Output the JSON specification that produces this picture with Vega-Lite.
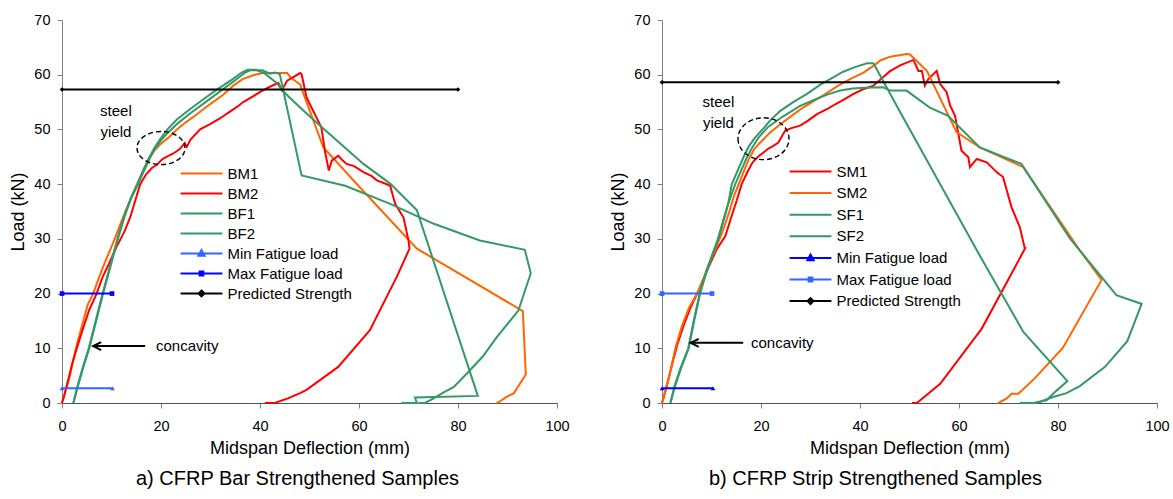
{
  "$schema": "https://vega.github.io/schema/vega-lite/v6.json",
  "padding": {"left": 9, "top": 12, "right": 5, "bottom": 5},
  "spacing": 39,
  "config": {
    "view": {"stroke": null},
    "font": "Liberation Sans",
    "axis": {"grid": false, "labelFont": "Liberation Sans", "titleFont": "Liberation Sans", "labelFontSize": 14.5, "titleFontSize": 18, "titleFontWeight": "normal", "labelColor": "#000", "titleColor": "#000", "tickSize": 5, "domainColor": "#808080", "tickColor": "#808080", "labelFlush": false, "labelOverlap": false},
    "axisX": {"domainColor": "#505050", "labelPadding": 11, "titlePadding": 7},
    "axisY": {"labelPadding": 7, "titlePadding": 6},
    "legend": {"labelFont": "Liberation Sans", "labelFontSize": 15, "labelColor": "#000", "padding": 0},
    "title": {"font": "Liberation Sans", "fontSize": 20, "fontWeight": "normal", "color": "#000"}
  },
  "datasets": {
    "a": [
      {"s":"BM1","x":0,"y":0},{"s":"BM1","x":0.8,"y":2.5},{"s":"BM1","x":1.6,"y":5},{"s":"BM1","x":2.8,"y":10},{"s":"BM1","x":4.0,"y":14},{"s":"BM1","x":5.2,"y":18},{"s":"BM1","x":6.3,"y":20},{"s":"BM1","x":7.5,"y":23},{"s":"BM1","x":8.8,"y":26},{"s":"BM1","x":10.2,"y":29},{"s":"BM1","x":11.5,"y":32},{"s":"BM1","x":12.8,"y":35},{"s":"BM1","x":14,"y":37.5},{"s":"BM1","x":15.2,"y":40},{"s":"BM1","x":16.4,"y":42.5},{"s":"BM1","x":17.6,"y":44.8},{"s":"BM1","x":18.8,"y":46.3},{"s":"BM1","x":20,"y":47.4},{"s":"BM1","x":21.5,"y":48.5},{"s":"BM1","x":23.2,"y":50},{"s":"BM1","x":25,"y":51.3},{"s":"BM1","x":27,"y":52.6},{"s":"BM1","x":29,"y":54},{"s":"BM1","x":30.5,"y":55},{"s":"BM1","x":32.5,"y":56.3},{"s":"BM1","x":34.6,"y":58},{"s":"BM1","x":36.5,"y":59.2},{"s":"BM1","x":38.6,"y":59.9},{"s":"BM1","x":40.6,"y":60.3},{"s":"BM1","x":45.5,"y":60.3},{"s":"BM1","x":46.2,"y":59.5},{"s":"BM1","x":48.1,"y":58.2},{"s":"BM1","x":52.8,"y":46.7},{"s":"BM1","x":60.8,"y":38.8},{"s":"BM1","x":71.7,"y":28.2},{"s":"BM1","x":93.1,"y":16.8},{"s":"BM1","x":93.7,"y":5.2},{"s":"BM1","x":91.3,"y":1.8},{"s":"BM1","x":89.8,"y":1.1},{"s":"BM1","x":88.5,"y":0.3},{"s":"BM1","x":87.8,"y":0},
      {"s":"BM2","x":0,"y":0},{"s":"BM2","x":0.5,"y":1.5},{"s":"BM2","x":1.2,"y":4},{"s":"BM2","x":2,"y":7},{"s":"BM2","x":3,"y":10},{"s":"BM2","x":4.2,"y":13.5},{"s":"BM2","x":5.5,"y":17},{"s":"BM2","x":7,"y":20},{"s":"BM2","x":8.2,"y":23},{"s":"BM2","x":9.5,"y":25.5},{"s":"BM2","x":11,"y":28.5},{"s":"BM2","x":12.7,"y":31.5},{"s":"BM2","x":13.8,"y":34},{"s":"BM2","x":14.8,"y":37},{"s":"BM2","x":15.8,"y":40},{"s":"BM2","x":17,"y":41.8},{"s":"BM2","x":18.2,"y":43},{"s":"BM2","x":19.1,"y":43.5},{"s":"BM2","x":20.2,"y":44.5},{"s":"BM2","x":21.1,"y":45},{"s":"BM2","x":22.5,"y":45.6},{"s":"BM2","x":23.8,"y":46.4},{"s":"BM2","x":24.8,"y":47.5},{"s":"BM2","x":25.2,"y":46.8},{"s":"BM2","x":26,"y":48.2},{"s":"BM2","x":27.9,"y":50},{"s":"BM2","x":30,"y":51},{"s":"BM2","x":31.9,"y":52},{"s":"BM2","x":34,"y":53.3},{"s":"BM2","x":35.5,"y":54.2},{"s":"BM2","x":36.6,"y":55},{"s":"BM2","x":38.5,"y":56},{"s":"BM2","x":40.3,"y":57},{"s":"BM2","x":42,"y":57.8},{"s":"BM2","x":43.7,"y":58.5},{"s":"BM2","x":44.4,"y":57.2},{"s":"BM2","x":45.5,"y":58.9},{"s":"BM2","x":46.8,"y":59.6},{"s":"BM2","x":48.1,"y":60.3},{"s":"BM2","x":48.4,"y":60.1},{"s":"BM2","x":49.4,"y":55.9},{"s":"BM2","x":50.4,"y":54},{"s":"BM2","x":51.4,"y":52.2},{"s":"BM2","x":52.4,"y":50.4},{"s":"BM2","x":53.1,"y":46.1},{"s":"BM2","x":53.9,"y":42.5},{"s":"BM2","x":54.5,"y":44.3},{"s":"BM2","x":55.8,"y":45.2},{"s":"BM2","x":56.5,"y":44.5},{"s":"BM2","x":57.5,"y":43.7},{"s":"BM2","x":59,"y":43.3},{"s":"BM2","x":60.9,"y":42.2},{"s":"BM2","x":62.5,"y":41.5},{"s":"BM2","x":63.6,"y":40.7},{"s":"BM2","x":65,"y":40.2},{"s":"BM2","x":66.3,"y":39.7},{"s":"BM2","x":67.3,"y":36.4},{"s":"BM2","x":69,"y":33.9},{"s":"BM2","x":70,"y":29.7},{"s":"BM2","x":70.2,"y":28.2},{"s":"BM2","x":67.6,"y":23},{"s":"BM2","x":62.2,"y":13.3},{"s":"BM2","x":55.8,"y":6.6},{"s":"BM2","x":49.4,"y":2.4},{"s":"BM2","x":48.1,"y":1.8},{"s":"BM2","x":45.5,"y":0.8},{"s":"BM2","x":43,"y":0},{"s":"BM2","x":41,"y":0},
      {"s":"BF1","x":2.3,"y":0},{"s":"BF1","x":3.2,"y":3},{"s":"BF1","x":4.3,"y":6.5},{"s":"BF1","x":5.5,"y":10},{"s":"BF1","x":6.9,"y":15},{"s":"BF1","x":8.3,"y":20},{"s":"BF1","x":9.8,"y":25},{"s":"BF1","x":11.3,"y":30},{"s":"BF1","x":12.6,"y":34},{"s":"BF1","x":14,"y":37.5},{"s":"BF1","x":15.4,"y":40},{"s":"BF1","x":16.6,"y":42.5},{"s":"BF1","x":17.8,"y":44.8},{"s":"BF1","x":18.8,"y":46.5},{"s":"BF1","x":20,"y":48},{"s":"BF1","x":21.5,"y":49.5},{"s":"BF1","x":23.5,"y":51.2},{"s":"BF1","x":26,"y":53},{"s":"BF1","x":29,"y":55},{"s":"BF1","x":32,"y":57},{"s":"BF1","x":35,"y":59},{"s":"BF1","x":37,"y":60.4},{"s":"BF1","x":38,"y":60.8},{"s":"BF1","x":40.5,"y":60.8},{"s":"BF1","x":42,"y":60.2},{"s":"BF1","x":43,"y":60.4},{"s":"BF1","x":44,"y":60.1},{"s":"BF1","x":48.4,"y":41.6},{"s":"BF1","x":57.2,"y":39.7},{"s":"BF1","x":66.3,"y":36.4},{"s":"BF1","x":75,"y":32.8},{"s":"BF1","x":84.4,"y":29.7},{"s":"BF1","x":93.5,"y":28},{"s":"BF1","x":94.7,"y":23.7},{"s":"BF1","x":92.2,"y":16.9},{"s":"BF1","x":87.8,"y":12},{"s":"BF1","x":85,"y":8.5},{"s":"BF1","x":81.8,"y":5.4},{"s":"BF1","x":79.1,"y":2.9},{"s":"BF1","x":77,"y":1.9},{"s":"BF1","x":75,"y":0.8},{"s":"BF1","x":73.3,"y":0},{"s":"BF1","x":72,"y":0},
      {"s":"BF2","x":2.3,"y":0},{"s":"BF2","x":3.1,"y":3},{"s":"BF2","x":4.2,"y":6.5},{"s":"BF2","x":5.4,"y":10},{"s":"BF2","x":6.8,"y":15},{"s":"BF2","x":8.2,"y":20},{"s":"BF2","x":9.7,"y":25},{"s":"BF2","x":11.2,"y":30},{"s":"BF2","x":12.5,"y":34},{"s":"BF2","x":13.9,"y":37.5},{"s":"BF2","x":15.2,"y":40},{"s":"BF2","x":16.4,"y":42.5},{"s":"BF2","x":17.6,"y":44.8},{"s":"BF2","x":18.6,"y":46.5},{"s":"BF2","x":19.8,"y":48.2},{"s":"BF2","x":21.3,"y":50},{"s":"BF2","x":23.2,"y":51.8},{"s":"BF2","x":25.7,"y":53.6},{"s":"BF2","x":28.7,"y":55.6},{"s":"BF2","x":31.5,"y":57.4},{"s":"BF2","x":34.5,"y":59.2},{"s":"BF2","x":36.3,"y":60.4},{"s":"BF2","x":37.5,"y":60.9},{"s":"BF2","x":39.2,"y":60.9},{"s":"BF2","x":41,"y":60.2},{"s":"BF2","x":43.5,"y":58.4},{"s":"BF2","x":44.5,"y":57.1},{"s":"BF2","x":48.1,"y":54},{"s":"BF2","x":52.1,"y":50.7},{"s":"BF2","x":60.9,"y":43.7},{"s":"BF2","x":66.3,"y":40.1},{"s":"BF2","x":71.7,"y":35.2},{"s":"BF2","x":84,"y":1.3},{"s":"BF2","x":71.3,"y":1},{"s":"BF2","x":71.7,"y":0},{"s":"BF2","x":68.6,"y":0},
      {"s":"Min Fatigue load","x":0,"y":2.7},{"s":"Min Fatigue load","x":10.2,"y":2.7},
      {"s":"Max Fatigue load","x":0,"y":20},{"s":"Max Fatigue load","x":10.1,"y":20},
      {"s":"Predicted Strength","x":0,"y":57.3},{"s":"Predicted Strength","x":80,"y":57.3}
    ],
    "b": [
      {"s":"SM1","x":0,"y":0},{"s":"SM1","x":0.5,"y":1.5},{"s":"SM1","x":1.2,"y":4},{"s":"SM1","x":2.3,"y":8},{"s":"SM1","x":3.2,"y":11},{"s":"SM1","x":4.5,"y":14.5},{"s":"SM1","x":5.8,"y":17.5},{"s":"SM1","x":7.1,"y":20},{"s":"SM1","x":8.3,"y":22.5},{"s":"SM1","x":9.5,"y":25},{"s":"SM1","x":11,"y":28},{"s":"SM1","x":12.8,"y":30.5},{"s":"SM1","x":14,"y":34},{"s":"SM1","x":15.1,"y":37},{"s":"SM1","x":16.1,"y":40},{"s":"SM1","x":17.3,"y":42.3},{"s":"SM1","x":18.3,"y":44},{"s":"SM1","x":19.4,"y":45},{"s":"SM1","x":20.5,"y":45.8},{"s":"SM1","x":21.5,"y":46.5},{"s":"SM1","x":22.5,"y":47},{"s":"SM1","x":23.5,"y":47.6},{"s":"SM1","x":24.9,"y":49.8},{"s":"SM1","x":26,"y":50.2},{"s":"SM1","x":27.9,"y":50.7},{"s":"SM1","x":29.5,"y":51.6},{"s":"SM1","x":31.3,"y":52.8},{"s":"SM1","x":33.5,"y":53.8},{"s":"SM1","x":35,"y":54.6},{"s":"SM1","x":36.8,"y":55.5},{"s":"SM1","x":38.7,"y":56.5},{"s":"SM1","x":40.5,"y":57.3},{"s":"SM1","x":42.7,"y":58},{"s":"SM1","x":44.7,"y":59.6},{"s":"SM1","x":46,"y":60.6},{"s":"SM1","x":48.1,"y":61.7},{"s":"SM1","x":50.8,"y":62.7},{"s":"SM1","x":51.8,"y":60.7},{"s":"SM1","x":52.5,"y":60.7},{"s":"SM1","x":53.1,"y":58},{"s":"SM1","x":53.8,"y":59.2},{"s":"SM1","x":55.5,"y":60.7},{"s":"SM1","x":56.2,"y":58.3},{"s":"SM1","x":57.5,"y":56.8},{"s":"SM1","x":58.2,"y":54.4},{"s":"SM1","x":59.2,"y":52.5},{"s":"SM1","x":60.5,"y":46.1},{"s":"SM1","x":61.9,"y":44.9},{"s":"SM1","x":62.2,"y":43.1},{"s":"SM1","x":63.6,"y":44.6},{"s":"SM1","x":65.6,"y":44},{"s":"SM1","x":67.6,"y":42.2},{"s":"SM1","x":68.9,"y":41.3},{"s":"SM1","x":70.6,"y":35.8},{"s":"SM1","x":72.3,"y":32.1},{"s":"SM1","x":73.3,"y":28.2},{"s":"SM1","x":73.5,"y":28.5},{"s":"SM1","x":64.6,"y":13.6},{"s":"SM1","x":56.2,"y":3.5},{"s":"SM1","x":51.5,"y":0},{"s":"SM1","x":50.5,"y":0},
      {"s":"SM2","x":0,"y":0},{"s":"SM2","x":0.6,"y":2},{"s":"SM2","x":1.5,"y":5},{"s":"SM2","x":2.7,"y":10},{"s":"SM2","x":4,"y":14},{"s":"SM2","x":5.5,"y":17.5},{"s":"SM2","x":7.1,"y":20},{"s":"SM2","x":8.5,"y":23},{"s":"SM2","x":9.8,"y":26},{"s":"SM2","x":11.2,"y":29},{"s":"SM2","x":12.5,"y":32},{"s":"SM2","x":13.6,"y":35},{"s":"SM2","x":14.6,"y":38},{"s":"SM2","x":15.5,"y":40},{"s":"SM2","x":16.6,"y":42.5},{"s":"SM2","x":17.6,"y":44.7},{"s":"SM2","x":18.5,"y":46.2},{"s":"SM2","x":19.5,"y":47.3},{"s":"SM2","x":20.5,"y":48.2},{"s":"SM2","x":21.9,"y":49.5},{"s":"SM2","x":24,"y":51},{"s":"SM2","x":26.5,"y":52.7},{"s":"SM2","x":28.5,"y":54},{"s":"SM2","x":30.3,"y":55},{"s":"SM2","x":32.5,"y":56.2},{"s":"SM2","x":35.6,"y":58},{"s":"SM2","x":38,"y":59.2},{"s":"SM2","x":40.7,"y":60.4},{"s":"SM2","x":43,"y":61.8},{"s":"SM2","x":44.1,"y":62.6},{"s":"SM2","x":46.1,"y":63.3},{"s":"SM2","x":49.4,"y":63.8},{"s":"SM2","x":50.1,"y":63.7},{"s":"SM2","x":53.5,"y":60.7},{"s":"SM2","x":59.5,"y":49.5},{"s":"SM2","x":64.2,"y":46.7},{"s":"SM2","x":73,"y":43.1},{"s":"SM2","x":84.4,"y":27.9},{"s":"SM2","x":88.8,"y":22.5},{"s":"SM2","x":81,"y":10.1},{"s":"SM2","x":75.3,"y":4.5},{"s":"SM2","x":72,"y":1.7},{"s":"SM2","x":70.6,"y":1.7},{"s":"SM2","x":69.6,"y":0.8},{"s":"SM2","x":67.9,"y":0},
      {"s":"SF1","x":1.7,"y":0},{"s":"SF1","x":2.6,"y":3},{"s":"SF1","x":3.9,"y":6.5},{"s":"SF1","x":5.4,"y":10},{"s":"SF1","x":6.5,"y":15},{"s":"SF1","x":7.7,"y":20},{"s":"SF1","x":9,"y":24},{"s":"SF1","x":10.2,"y":27},{"s":"SF1","x":11.4,"y":30},{"s":"SF1","x":12.5,"y":33.5},{"s":"SF1","x":13.4,"y":36.5},{"s":"SF1","x":14.1,"y":40},{"s":"SF1","x":15.3,"y":42.5},{"s":"SF1","x":16.5,"y":45},{"s":"SF1","x":17.6,"y":47},{"s":"SF1","x":18.8,"y":48.5},{"s":"SF1","x":20.5,"y":50.2},{"s":"SF1","x":22,"y":51.8},{"s":"SF1","x":23.9,"y":53.4},{"s":"SF1","x":26.5,"y":55},{"s":"SF1","x":29.3,"y":56.5},{"s":"SF1","x":32,"y":58.2},{"s":"SF1","x":34.6,"y":59.5},{"s":"SF1","x":36.5,"y":60.5},{"s":"SF1","x":38.7,"y":61.3},{"s":"SF1","x":41.4,"y":62.1},{"s":"SF1","x":42.7,"y":62.1},{"s":"SF1","x":44.1,"y":59.8},{"s":"SF1","x":48.1,"y":53.2},{"s":"SF1","x":63.6,"y":27.9},{"s":"SF1","x":73,"y":13},{"s":"SF1","x":81.9,"y":4},{"s":"SF1","x":79,"y":1.7},{"s":"SF1","x":77.7,"y":0.5},{"s":"SF1","x":75,"y":0},{"s":"SF1","x":72.3,"y":0},
      {"s":"SF2","x":1.7,"y":0},{"s":"SF2","x":2.5,"y":3},{"s":"SF2","x":3.8,"y":6.5},{"s":"SF2","x":5.3,"y":10},{"s":"SF2","x":6.4,"y":15},{"s":"SF2","x":7.6,"y":20},{"s":"SF2","x":8.9,"y":24},{"s":"SF2","x":10.1,"y":27},{"s":"SF2","x":11.3,"y":30},{"s":"SF2","x":12.4,"y":33.5},{"s":"SF2","x":13.4,"y":36.5},{"s":"SF2","x":14.8,"y":40},{"s":"SF2","x":16,"y":42.5},{"s":"SF2","x":17.2,"y":45},{"s":"SF2","x":18.3,"y":46.8},{"s":"SF2","x":19.5,"y":48.5},{"s":"SF2","x":21.5,"y":50.5},{"s":"SF2","x":24.5,"y":52.4},{"s":"SF2","x":27.9,"y":54.3},{"s":"SF2","x":31.3,"y":55.6},{"s":"SF2","x":33.5,"y":56.4},{"s":"SF2","x":36,"y":57.1},{"s":"SF2","x":38.5,"y":57.5},{"s":"SF2","x":40.7,"y":57.6},{"s":"SF2","x":44.7,"y":57.7},{"s":"SF2","x":46.1,"y":57.1},{"s":"SF2","x":49.4,"y":57.1},{"s":"SF2","x":54.1,"y":54},{"s":"SF2","x":57.8,"y":52.5},{"s":"SF2","x":64.2,"y":46.7},{"s":"SF2","x":72.6,"y":43.7},{"s":"SF2","x":82.4,"y":30.1},{"s":"SF2","x":91.8,"y":19.7},{"s":"SF2","x":96.9,"y":18.1},{"s":"SF2","x":94,"y":11.3},{"s":"SF2","x":89.5,"y":6.6},{"s":"SF2","x":84.4,"y":3.1},{"s":"SF2","x":81.7,"y":1.8},{"s":"SF2","x":79,"y":1.1},{"s":"SF2","x":75.7,"y":0},{"s":"SF2","x":72.3,"y":0},
      {"s":"Min Fatigue load","x":0,"y":2.7},{"s":"Min Fatigue load","x":10.3,"y":2.7},
      {"s":"Max Fatigue load","x":0,"y":20},{"s":"Max Fatigue load","x":10.1,"y":20},
      {"s":"Predicted Strength","x":0,"y":58.6},{"s":"Predicted Strength","x":80,"y":58.6}
    ]
  },
  "resolve": {"scale": {"color": "independent", "shape": "independent"}, "legend": {"color": "independent"}},
  "hconcat": [
    {
      "width": 495, "height": 383,
      "title": {"text": "a) CFRP Bar Strengthened Samples", "orient": "bottom", "anchor": "middle", "offset": 11, "dx": -12},
      "layer": [
        {
          "data": {"name": "a"},
          "mark": {"type": "line", "strokeWidth": 2},
          "encoding": {
            "x": {"field": "x", "type": "quantitative", "scale": {"domain": [0, 100], "nice": false}, "axis": {"title": "Midspan Deflection (mm)", "values": [0,20,40,60,80,100]}},
            "y": {"field": "y", "type": "quantitative", "scale": {"domain": [0, 70], "nice": false}, "axis": {"title": "Load (kN)", "values": [0,10,20,30,40,50,60,70]}},
            "order": {"value": null},
            "color": {"field": "s", "type": "nominal",
              "scale": {"domain": ["BM1","BM2","BF1","BF2","Min Fatigue load","Max Fatigue load","Predicted Strength"], "range": ["#FF6600","#FF0000","#339966","#339966","#3366FF","#0000FF","#000000"]},
              "legend": {"title": null, "orient": "none", "legendX": 132, "legendY": 146, "symbolType": "M-5,0H5", "symbolSize": 70, "symbolStrokeWidth": 2, "labelOffset": 18.5, "rowPadding": 4,
                "encode": {"symbols": {"update": {
                  "shape": {"signal": "datum.value == 'Min Fatigue load' ? 'M-5,0H5M0,-0.8L0.75,0.55L-0.75,0.55Z' : datum.value == 'Max Fatigue load' ? 'M-5,0H5M-0.45,-0.45H0.45V0.45H-0.45Z' : datum.value == 'Predicted Strength' ? 'M-5,0H5M0,-0.7L0.7,0L0,0.7L-0.7,0Z' : 'M-5,0H5'"},
                  "fill": {"signal": "datum.value == 'Min Fatigue load' ? '#3366FF' : datum.value == 'Max Fatigue load' ? '#0000FF' : datum.value == 'Predicted Strength' ? '#000000' : 'transparent'"}
                }}}}
            }
          }
        },
        {
          "data": {"name": "a"},
          "transform": [{"filter": "datum.s == 'Min Fatigue load' || datum.s == 'Max Fatigue load' || datum.s == 'Predicted Strength'"}],
          "mark": {"type": "point", "filled": true, "opacity": 1, "size": 22},
          "encoding": {
            "x": {"field": "x", "type": "quantitative"},
            "y": {"field": "y", "type": "quantitative"},
            "color": {"field": "s", "type": "nominal", "legend": null},
            "shape": {"field": "s", "type": "nominal", "legend": null, "scale": {"domain": ["Min Fatigue load","Max Fatigue load","Predicted Strength"], "range": ["triangle-up","square","diamond"]}}
          }
        },
        {
          "data": {"values": [{"t": "steel", "x": 10.9, "y": 53.4}, {"t": "yield", "x": 10.9, "y": 49.6}, {"t": "concavity", "x": 25.3, "y": 10.4}]},
          "mark": {"type": "text", "fontSize": 15, "font": "Liberation Sans", "color": "#000", "align": "center", "baseline": "middle"},
          "encoding": {"x": {"field": "x", "type": "quantitative"}, "y": {"field": "y", "type": "quantitative"}, "text": {"field": "t"}}
        },
        {
          "data": {"values": [{"x": 20, "y": 46.6}]},
          "mark": {"type": "point", "shape": "M-1,0A1,0.69 0 1,0 1,0A1,0.69 0 1,0 -1,0Z", "size": 2304, "filled": false, "stroke": "#000", "strokeWidth": 1.4, "strokeDash": [5, 3], "opacity": 1},
          "encoding": {"x": {"field": "x", "type": "quantitative"}, "y": {"field": "y", "type": "quantitative"}}
        },
        {
          "data": {"values": [{"x": 6.3, "x2": 16.8, "y": 10.4}]},
          "mark": {"type": "rule", "color": "#000", "strokeWidth": 2},
          "encoding": {"x": {"field": "x", "type": "quantitative"}, "x2": {"field": "x2"}, "y": {"field": "y", "type": "quantitative"}}
        },
        {
          "data": {"values": [{"x": 6.3, "y": 10.4}]},
          "mark": {"type": "point", "shape": "M2,-1L0,0L2,1", "size": 64, "filled": false, "stroke": "#000", "strokeWidth": 2, "opacity": 1},
          "encoding": {"x": {"field": "x", "type": "quantitative"}, "y": {"field": "y", "type": "quantitative"}}
        }
      ]
    },
    {
      "width": 495, "height": 383,
      "title": {"text": "b) CFRP Strip Strengthened Samples", "orient": "bottom", "anchor": "middle", "offset": 11, "dx": -34},
      "layer": [
        {
          "data": {"name": "b"},
          "mark": {"type": "line", "strokeWidth": 2},
          "encoding": {
            "x": {"field": "x", "type": "quantitative", "scale": {"domain": [0, 100], "nice": false}, "axis": {"title": "Midspan Deflection (mm)", "values": [0,20,40,60,80,100]}},
            "y": {"field": "y", "type": "quantitative", "scale": {"domain": [0, 70], "nice": false}, "axis": {"title": "Load (kN)", "values": [0,10,20,30,40,50,60,70]}},
            "order": {"value": null},
            "color": {"field": "s", "type": "nominal",
              "scale": {"domain": ["SM1","SM2","SF1","SF2","Min Fatigue load","Max Fatigue load","Predicted Strength"], "range": ["#FF0000","#FF6600","#339966","#339966","#0000FF","#3366FF","#000000"]},
              "legend": {"title": null, "orient": "none", "legendX": 141, "legendY": 144, "symbolType": "M-5,0H5", "symbolSize": 70, "symbolStrokeWidth": 2, "labelOffset": 18.5, "rowPadding": 5.6,
                "encode": {"symbols": {"update": {
                  "shape": {"signal": "datum.value == 'Min Fatigue load' ? 'M-5,0H5M0,-0.8L0.75,0.55L-0.75,0.55Z' : datum.value == 'Max Fatigue load' ? 'M-5,0H5M-0.45,-0.45H0.45V0.45H-0.45Z' : datum.value == 'Predicted Strength' ? 'M-5,0H5M0,-0.7L0.7,0L0,0.7L-0.7,0Z' : 'M-5,0H5'"},
                  "fill": {"signal": "datum.value == 'Min Fatigue load' ? '#0000FF' : datum.value == 'Max Fatigue load' ? '#3366FF' : datum.value == 'Predicted Strength' ? '#000000' : 'transparent'"}
                }}}}
            }
          }
        },
        {
          "data": {"name": "b"},
          "transform": [{"filter": "datum.s == 'Min Fatigue load' || datum.s == 'Max Fatigue load' || datum.s == 'Predicted Strength'"}],
          "mark": {"type": "point", "filled": true, "opacity": 1, "size": 22},
          "encoding": {
            "x": {"field": "x", "type": "quantitative"},
            "y": {"field": "y", "type": "quantitative"},
            "color": {"field": "s", "type": "nominal", "legend": null},
            "shape": {"field": "s", "type": "nominal", "legend": null, "scale": {"domain": ["Min Fatigue load","Max Fatigue load","Predicted Strength"], "range": ["triangle-up","square","diamond"]}}
          }
        },
        {
          "data": {"values": [{"t": "steel", "x": 11.4, "y": 55.1}, {"t": "yield", "x": 11.4, "y": 51.2}, {"t": "concavity", "x": 24.3, "y": 11.0}]},
          "mark": {"type": "text", "fontSize": 15, "font": "Liberation Sans", "color": "#000", "align": "center", "baseline": "middle"},
          "encoding": {"x": {"field": "x", "type": "quantitative"}, "y": {"field": "y", "type": "quantitative"}, "text": {"field": "t"}}
        },
        {
          "data": {"values": [{"x": 20.5, "y": 48.3}]},
          "mark": {"type": "point", "shape": "M-1,0A1,0.82 0 1,0 1,0A1,0.82 0 1,0 -1,0Z", "size": 2601, "filled": false, "stroke": "#000", "strokeWidth": 1.4, "strokeDash": [5, 3], "opacity": 1},
          "encoding": {"x": {"field": "x", "type": "quantitative"}, "y": {"field": "y", "type": "quantitative"}}
        },
        {
          "data": {"values": [{"x": 5.8, "x2": 16.4, "y": 11.0}]},
          "mark": {"type": "rule", "color": "#000", "strokeWidth": 2},
          "encoding": {"x": {"field": "x", "type": "quantitative"}, "x2": {"field": "x2"}, "y": {"field": "y", "type": "quantitative"}}
        },
        {
          "data": {"values": [{"x": 5.8, "y": 11.0}]},
          "mark": {"type": "point", "shape": "M2,-1L0,0L2,1", "size": 64, "filled": false, "stroke": "#000", "strokeWidth": 2, "opacity": 1},
          "encoding": {"x": {"field": "x", "type": "quantitative"}, "y": {"field": "y", "type": "quantitative"}}
        }
      ]
    }
  ]
}
